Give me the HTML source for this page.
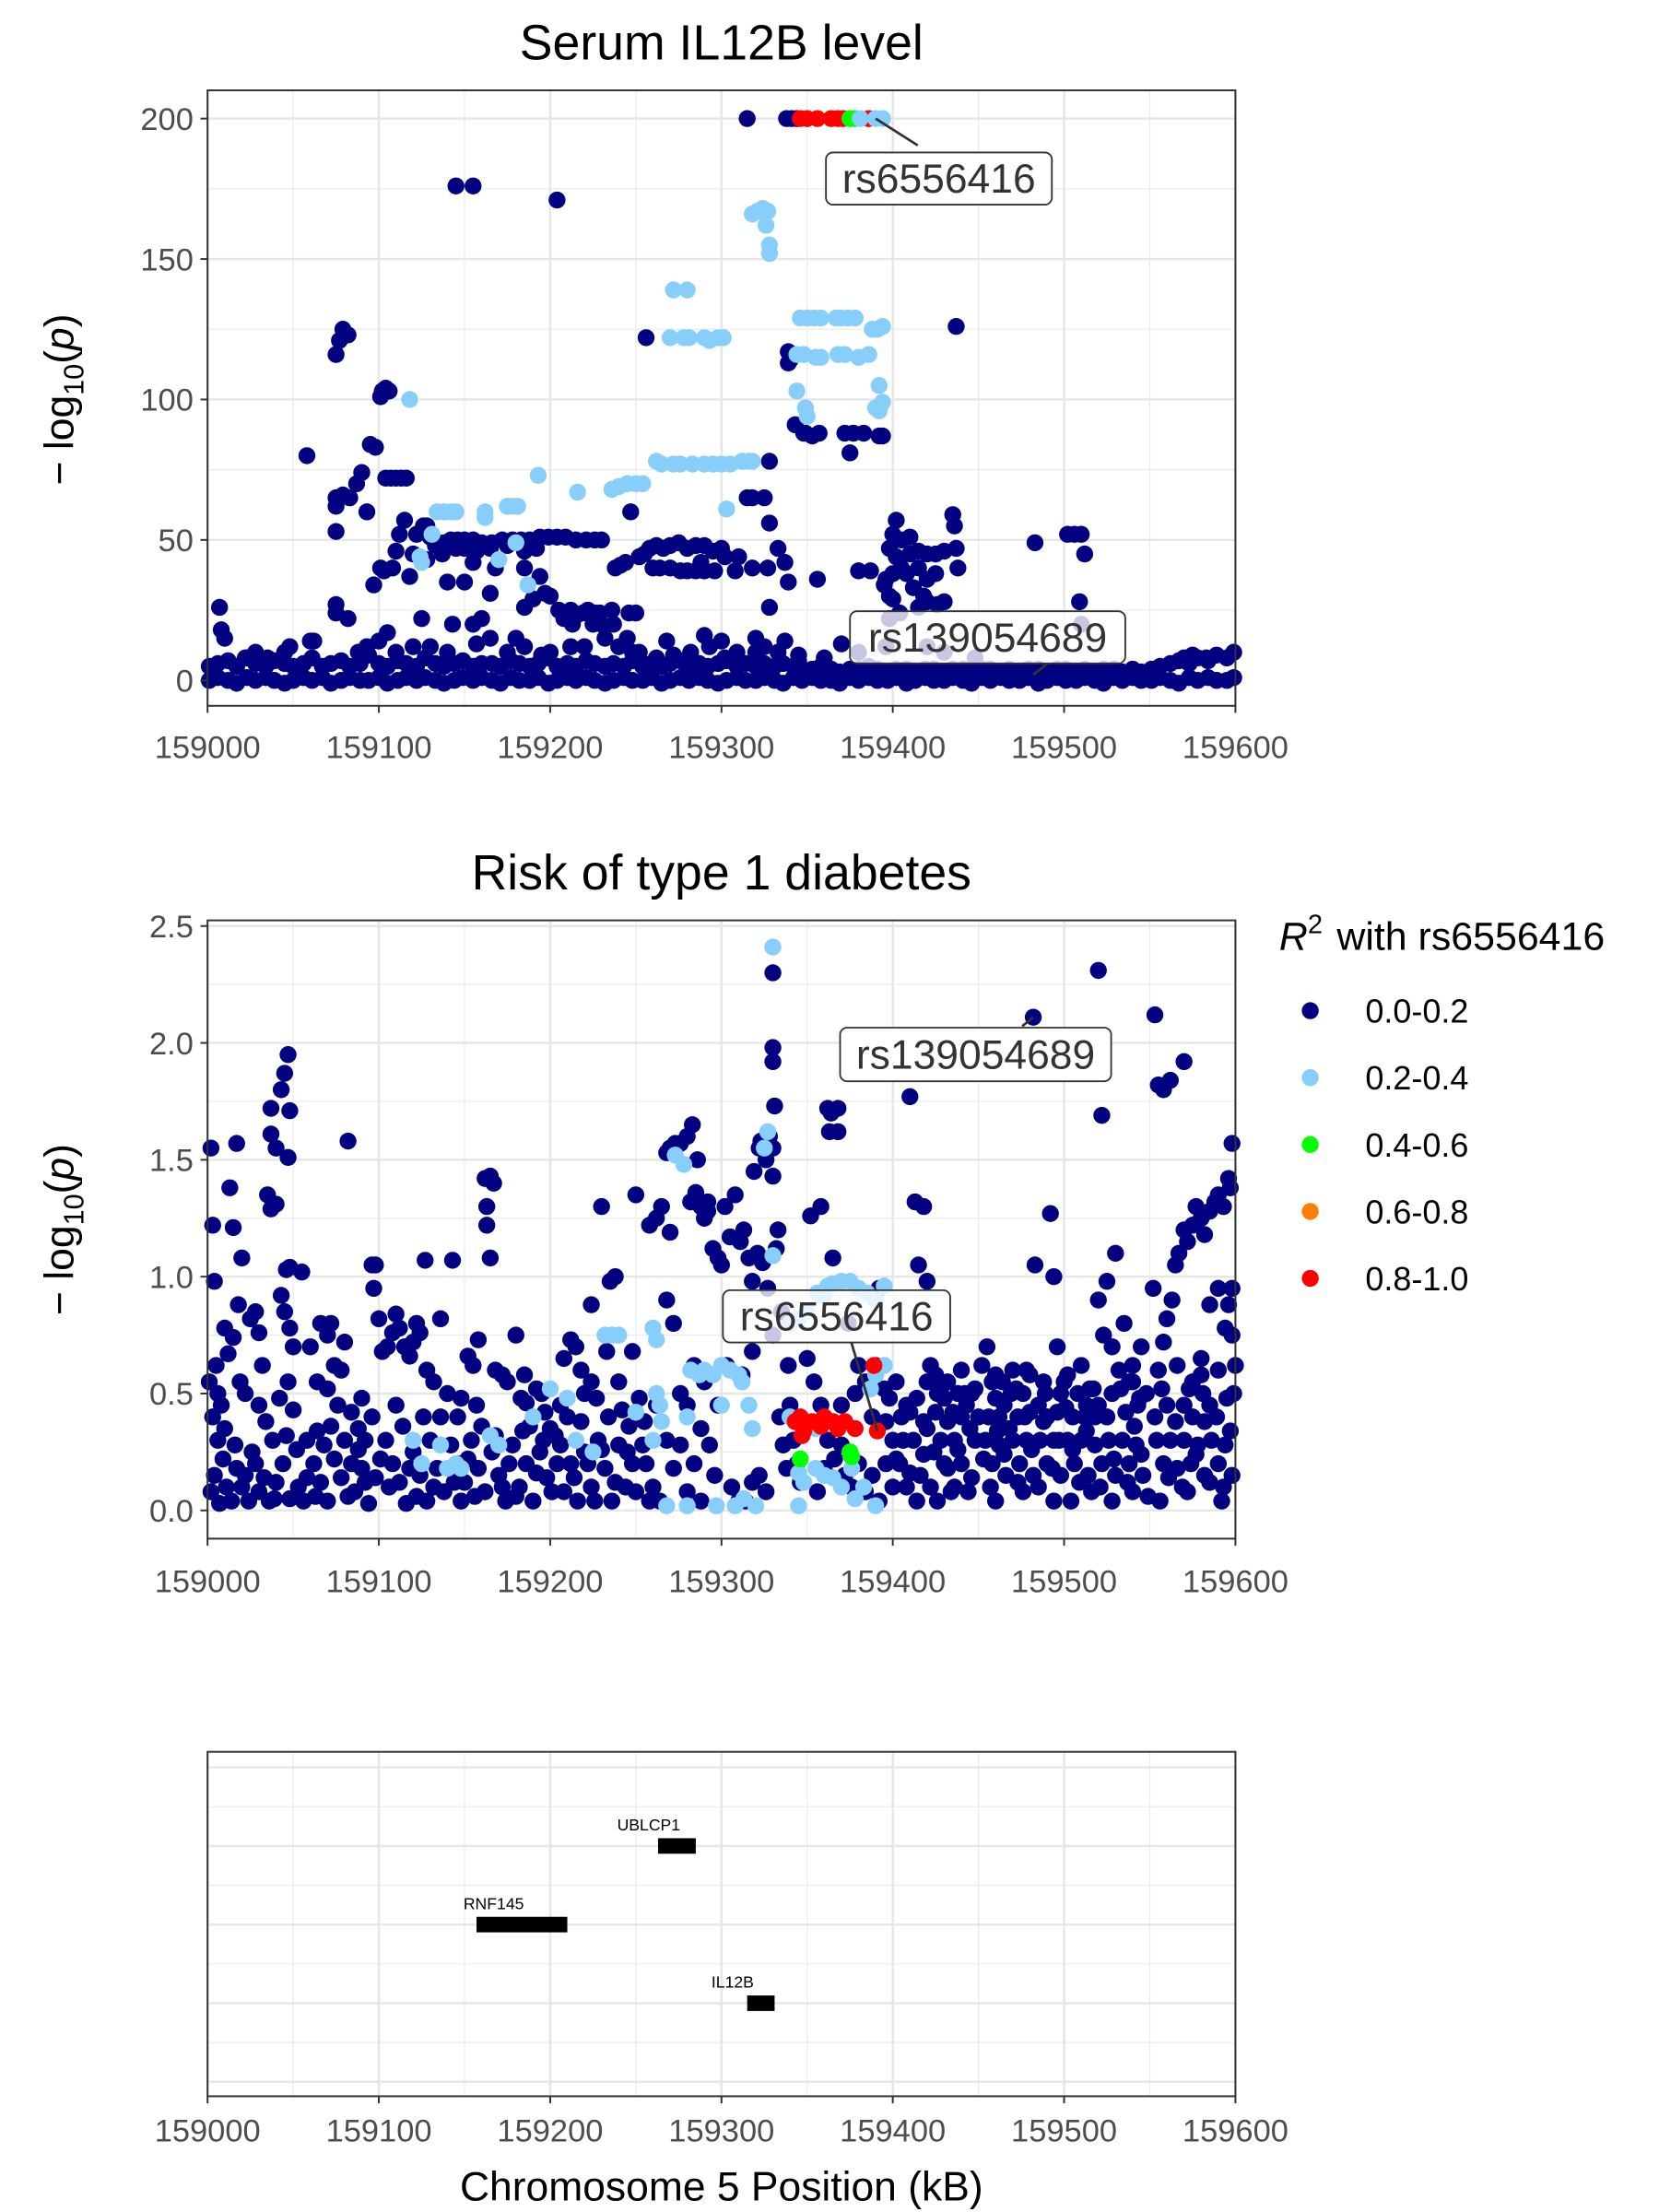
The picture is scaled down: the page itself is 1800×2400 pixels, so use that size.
<!DOCTYPE html>
<html><head><meta charset="utf-8"><title>Regional association plots</title>
<style>
html,body{margin:0;padding:0;background:#fff;}
svg{display:block;font-family:"Liberation Sans",Arial,sans-serif;}
</style></head>
<body>
<svg id="chart" width="1800" height="2400" viewBox="0 0 1175 1567" preserveAspectRatio="none" xmlns="http://www.w3.org/2000/svg">
<rect x="0" y="0" width="1175" height="1567" fill="#fff"/>
<g id="p1"></g>
<g id="p2"></g>
<g id="p3"></g>
<g id="legend"></g>
</svg>
<script>
// ---------- data ----------
const xTicks = [159000,159100,159200,159300,159400,159500,159600];
const p1YTicks = [0,50,100,150,200];
const p2YTicks = [0,0.5,1.0,1.5,2.0,2.5];
const p2YTickLabels = ["0.0","0.5","1.0","1.5","2.0","2.5"];
const legendLabels = ["0.0-0.2","0.2-0.4","0.4-0.6","0.6-0.8","0.8-1.0"];

// Panel 1 baseline band (positions, low and high values)
const p1BasePos = [159001,159006,159012,159017,159023,159028,159034,159039,159045,159050,159056,159061,159067,159072,159078,159083,159089,159094,159100,159105,159111,159116,159122,159127,159133,159138,159144,159149,159155,159160,159166,159171,159177,159182,159188,159193,159199,159204,159210,159215,159221,159226,159232,159237,159243,159248,159254,159259,159265,159270,159276,159281,159287,159292,159298,159303,159309,159314,159320,159325,159331,159336,159342,159347,159353,159358,159364,159369,159375,159380,159386,159391,159397,159402,159408,159413,159419,159424,159430,159435,159441,159446,159452,159457,159463,159468,159474,159479,159485,159490,159496,159501,159507,159512,159518,159523,159529,159534,159540,159545,159551,159556,159562,159567,159573,159578,159584,159589,159595,159599];
const p1BaseLow = [0,1,0,-1,1,0,1,0,-1,0,1,0,1,-1,0,1,0,0,1,-1,0,1,0,1,0,-1,0,1,0,1,0,-1,1,0,0,1,-1,0,1,0,1,0,-1,0,1,0,0,1,-1,0,1,0,1,0,-1,0,1,0,0,1,0,-1,1,0,1,0,0,-1,1,0,1,0,0,1,-1,0,1,0,0,1,0,-1,1,0,1,0,0,1,-1,0,1,0,0,1,0,-1,1,0,1,0,0,1,0,-1,1,0,1,0,0,1];
const p1BaseHigh = [5,6,7,5,8,6,5,7,6,5,6,8,5,6,7,5,6,9,6,5,7,6,5,8,6,5,6,7,5,6,6,5,7,6,5,6,8,5,6,5,7,6,5,6,5,7,5,6,5,6,7,5,6,5,6,7,5,6,5,6,5,6,5,4,4,5,4,3,4,4,5,4,3,4,4,3,4,4,3,4,4,3,4,4,3,4,3,4,4,3,4,4,3,4,3,4,4,3,4,3,4,5,6,7,6,8,7,9,8,10];

const p1Navy = [[159315,200],[159338,200],[159341,200],[159344,200],[159145,176],[159155,176],[159204,171],[159437,126],[159256,122],[159339,117],[159339,113],[159340,114],
[159075,116],[159077,121],[159079,125],[159082,123],[159101,101],[159102,103],[159104,104],[159106,103],[159095,84],[159098,83],[159058,80],
[159104,72],[159107,72],[159110,72],[159113,72],[159116,72],[159090,74],[159087,70],[159075,65],[159075,62],[159075,53],[159079,66],[159083,65],[159093,60],[159115,57],[159112,52],[159110,46],[159108,40],[159101,40],[159103,39],[159097,34],[159122,52],[159126,55],[159120,45],[159118,37],[159130,51],[159133,48],[159128,43],
[159138,49],[159142,50],[159146,50],[159150,50],[159155,50],[159160,49],[159166,49],[159172,50],[159178,50],[159183,50],[159188,50],[159194,51],[159199,51],[159204,51],[159209,51],[159215,50],[159221,50],[159226,50],[159230,50],
[159137,45],[159145,47],[159150,47],[159157,46],[159165,47],[159175,48],[159185,46],[159192,47],
[159155,42],[159168,40],[159185,40],[159194,37],[159165,31],[159185,26],[159190,29],[159197,31],[159200,30],[159140,35],[159128,55],[159150,35],
[159205,25],[159208,22],[159212,25],[159215,23],[159219,24],[159222,25],[159226,24],[159229,24],[159213,20],[159225,20],[159230,20],[159237,20],[159246,24],[159250,24],[159236,25],
[159247,60],[159238,40],[159241,41],[159244,42],[159252,44],[159255,45],[159258,47],[159262,48],[159266,47],[159270,48],[159275,49],[159280,47],[159285,48],[159290,48],[159295,46],[159300,47],[159288,42],
[159260,40],[159264,40],[159270,40],[159276,39],[159280,39],[159285,39],[159290,39],[159296,39],[159302,44],[159310,44],[159308,39],[159318,40],
[159315,65],[159318,65],[159325,65],[159328,78],[159328,56],[159327,40],[159333,47],[159337,42],[159339,35],
[159343,91],[159348,88],[159353,87],[159357,88],[159372,88],[159377,88],[159383,88],[159392,87],[159394,87],[159375,81],[159349,88],
[159356,36],[159380,39],[159396,36],[159398,30],[159402,57],[159400,52],[159398,47],[159402,44],[159405,40],[159400,38],[159410,45],[159415,46],[159420,45],[159425,45],[159430,46],[159405,50],[159410,51],[159408,38],[159412,33],[159418,30],[159420,28],[159426,27],[159430,28],[159435,59],[159436,55],[159437,47],[159438,40],[159425,38],[159415,40],[159420,36],[159387,39],[159395,34],[159400,29],[159404,24],[159415,26],[159483,49],[159502,52],[159506,52],[159510,52],[159512,45],[159509,28],[159510,20],
[159007,26],[159008,18],[159010,15],[159060,14],[159062,14],[159082,22],[159075,27],[159075,24],[159105,17],[159100,14],[159093,12],[159125,22],[159143,20],[159130,12],[159155,20],[159160,22],[159165,15],[159180,15],[159157,13],[159175,10],[159195,9],[159212,12],[159232,15],[159240,12],[159245,15],[159248,10],[159268,14],[159272,9],[159290,16],[159293,12],[159300,14],[159309,10],[159320,15],[159328,26],[159325,12],[159337,14],[159345,9],[159360,8],[159370,13],[159380,10],[159398,22],[159396,12],[159420,12],[159430,10],[159448,8],[159045,10],[159048,12],[159035,8],[159022,8],[159028,10],[159088,10],[159110,10],[159120,12],[159140,10],[159185,12],[159200,10],[159220,12],[159252,10],[159262,8],[159282,10],[159302,8],[159320,10],[159333,10],[159345,7],[159570,8],[159575,9],[159583,8]];
const p1LightBlue = [[159381,200],[159390,200],[159394,200],[159318,166],[159321,167],[159324,168],[159327,167],[159326,162],[159328,155],[159328,152],[159272,139],[159280,139],
[159270,122],[159278,122],[159281,122],[159290,122],[159293,121],[159298,122],[159301,122],
[159346,129],[159350,129],[159354,129],[159358,129],[159367,129],[159370,129],[159374,129],[159378,129],[159388,125],[159391,125],[159394,126],
[159344,116],[159348,116],[159355,115],[159358,115],[159368,116],[159372,116],[159380,115],[159386,116],[159344,103],[159349,97],[159350,94],[159392,105],[159390,97],[159394,99],[159392,96],
[159262,78],[159265,77],[159272,77],[159276,77],[159283,77],[159290,77],[159295,77],[159300,77],[159305,77],[159312,78],[159316,78],[159318,78],
[159216,67],[159236,68],[159240,69],[159245,70],[159250,70],[159254,70],[159193,73],[159175,62],[159178,62],[159181,62],[159162,60],[159162,58],[159134,60],[159138,60],[159142,60],[159145,60],[159118,100],[159131,52],[159124,44],[159187,34],[159303,61],[159180,49],[159170,43],[159125,42]];
const p1Green = [[159375,200],[159378,200]];
const p1Red = [[159346,200],[159350,200],[159356,200],[159364,200],[159368,200],[159371,200],[159386,200]];

const p2Navy = [[159002,1.55],[159003,1.22],[159004,0.98],[159005,0.62],[159001,0.55],[159010,0.78],[159013,1.38],[159015,1.21],[159017,1.57],[159018,0.88],[159020,1.08],[159015,0.74],[159012,0.67],[159008,0.45],[159003,0.40],[159006,0.30],[159009,0.22],[159004,0.15],[159011,0.10],[159007,0.03],[159014,0.04],[159019,0.55],[159022,0.50],[159025,0.82],[159028,0.85],[159030,0.76],[159032,0.62],[159035,1.35],[159037,1.29],[159037,1.72],[159037,1.61],[159040,1.31],[159040,1.55],[159043,1.80],[159045,1.87],[159047,1.95],[159048,1.71],[159047,1.51],[159048,1.04],[159046,1.03],[159043,0.92],[159045,0.85],[159048,0.78],[159050,0.70],[159030,0.45],[159034,0.38],[159038,0.30],[159026,0.25],[159022,0.15],[159017,0.18],[159024,0.04],[159030,0.08],[159036,0.04],[159040,0.12],[159044,0.20],[159042,0.48],[159047,0.55],[159050,0.43],[159048,0.05],[159053,0.10],
[159055,1.02],[159060,0.70],[159064,0.55],[159066,0.80],[159070,0.75],[159072,0.80],[159074,0.62],[159078,0.60],[159080,0.72],[159082,1.58],[159084,0.42],[159088,0.35],[159092,0.30],[159096,1.05],[159097,0.95],[159098,1.05],[159100,0.82],[159102,0.68],[159058,0.30],[159062,0.20],[159066,0.12],[159070,0.04],[159074,0.22],[159076,0.45],[159086,0.08],[159090,0.18],[159094,0.03],[159098,0.14],[159056,0.04],[159064,0.34],[159070,0.52],[159080,0.30],[159084,0.20],[159090,0.48],
[159105,0.70],[159108,0.76],[159110,0.84],[159112,0.78],[159115,0.70],[159118,0.66],[159120,0.72],[159122,0.80],[159124,0.76],[159127,1.07],[159128,0.60],[159132,0.55],[159136,0.82],[159140,0.50],[159143,1.07],[159146,0.40],[159148,0.48],[159104,0.30],[159108,0.20],[159112,0.12],[159116,0.03],[159120,0.25],[159124,0.15],[159130,0.30],[159134,0.18],[159138,0.08],[159142,0.28],[159146,0.20],[159150,0.12],[159110,0.45],[159126,0.40],[159148,0.04],[159128,0.04],
[159152,0.66],[159155,0.62],[159158,0.73],[159162,1.42],[159165,1.43],[159167,1.40],[159163,1.30],[159163,1.22],[159165,1.08],[159168,0.60],[159172,0.58],[159175,0.55],[159180,0.75],[159183,0.48],[159186,0.46],[159188,0.36],[159192,0.52],[159195,0.50],[159197,0.42],[159200,0.35],[159154,0.30],[159158,0.18],[159162,0.08],[159166,0.25],[159170,0.15],[159174,0.04],[159178,0.28],[159182,0.10],[159186,0.20],[159190,0.04],[159194,0.25],[159198,0.14],[159157,0.45],[159185,0.58],
[159203,0.32],[159206,0.45],[159208,0.65],[159212,0.73],[159215,0.70],[159218,0.60],[159220,0.50],[159224,0.55],[159227,0.48],[159230,1.30],[159233,0.68],[159235,0.98],[159238,1.00],[159240,0.55],[159242,0.43],[159245,0.25],[159248,0.68],[159250,1.35],[159204,0.20],[159208,0.08],[159212,0.20],[159216,0.04],[159220,0.25],[159224,0.10],[159228,0.30],[159232,0.18],[159236,0.04],[159240,0.28],[159244,0.10],[159248,0.20],[159224,0.88],[159210,0.40],
[159252,0.48],[159255,0.38],[159258,1.22],[159262,1.25],[159262,0.45],[159265,1.30],[159268,1.53],[159270,1.55],[159273,1.57],[159276,1.57],[159280,1.60],[159283,1.65],[159286,1.50],[159282,1.32],[159285,1.36],[159288,1.30],[159290,1.25],[159292,1.28],[159270,1.19],[159268,0.90],[159272,0.80],[159276,0.50],[159280,0.45],[159284,0.62],[159288,0.35],[159292,1.32],[159295,1.12],[159298,1.08],[159300,1.05],[159293,0.28],[159296,0.15],[159256,0.20],[159260,0.10],[159264,0.04],[159268,0.30],[159272,0.18],[159276,0.28],[159280,0.08],[159284,0.20],[159288,0.04],[159290,0.55],[159298,0.45],
[159302,1.30],[159305,1.17],[159308,1.35],[159311,1.15],[159313,1.20],[159316,1.08],[159318,0.98],[159319,1.45],[159322,1.55],[159323,1.58],[159326,1.50],[159327,1.56],[159321,1.10],[159324,1.06],[159330,2.30],[159330,1.98],[159330,1.92],[159331,1.73],[159330,1.43],[159328,1.60],[159330,1.55],[159327,0.95],[159332,1.12],[159333,1.20],[159335,0.85],[159339,0.62],[159340,0.45],[159342,0.30],[159344,0.20],[159346,0.12],[159303,0.62],[159306,0.10],[159310,0.04],[159314,0.04],[159318,0.12],[159322,0.15],[159326,0.08],[159330,0.75],[159334,0.40],[159336,0.28],[159338,0.18],[159348,0.35],[159350,0.65],[159312,0.58],[159318,0.68],
[159352,1.26],[159358,1.30],[159362,1.72],[159363,1.62],[159364,1.70],[159365,1.08],[159368,1.72],[159368,1.62],[159374,0.80],[159380,0.62],[159384,0.55],[159388,0.40],[159392,0.95],[159395,0.52],[159398,0.48],[159400,0.30],[159354,0.55],[159358,0.45],[159362,0.30],[159366,0.22],[159370,0.28],[159372,0.15],[159376,0.10],[159380,0.20],[159384,0.08],[159388,0.15],[159392,0.04],[159396,0.20],[159400,0.10],[159356,0.08],[159360,0.18],[159370,0.45],[159378,0.50],[159390,0.62],[159396,0.38],
[159402,0.55],[159405,0.40],[159408,0.45],[159410,1.77],[159413,1.32],[159415,1.05],[159418,1.30],[159420,0.98],[159422,0.62],[159425,0.58],[159428,0.52],[159430,0.48],[159432,0.55],[159435,0.42],[159438,0.50],[159440,0.60],[159443,0.45],[159446,0.50],[159448,0.52],[159404,0.20],[159408,0.10],[159412,0.30],[159416,0.15],[159420,0.35],[159424,0.25],[159428,0.30],[159432,0.18],[159436,0.30],[159440,0.20],[159444,0.08],[159448,0.30],[159414,0.04],[159426,0.04],[159436,0.10],[159410,0.42],[159418,0.38],[159425,0.42],[159432,0.38],[159440,0.40],[159445,0.35],
[159452,0.62],[159455,0.70],[159458,0.55],[159460,0.48],[159462,0.40],[159465,0.45],[159468,0.35],[159470,0.60],[159473,0.40],[159476,0.50],[159478,0.60],[159480,0.58],[159482,2.11],[159483,1.05],[159485,0.45],[159488,0.55],[159490,0.40],[159492,1.27],[159494,1.00],[159496,0.70],[159498,0.50],[159454,0.30],[159458,0.20],[159462,0.28],[159466,0.15],[159470,0.30],[159474,0.20],[159478,0.30],[159482,0.15],[159486,0.30],[159490,0.20],[159494,0.30],[159498,0.15],[159456,0.40],[159464,0.55],[159472,0.52],[159480,0.42],[159488,0.38],[159496,0.42],[159460,0.04],[159476,0.08],[159494,0.04],
[159502,0.58],[159505,0.40],[159508,0.50],[159510,0.62],[159513,0.45],[159515,0.52],[159518,0.40],[159520,2.31],[159522,1.69],[159520,0.90],[159523,0.75],[159525,0.98],[159528,0.70],[159530,1.10],[159532,0.60],[159535,0.80],[159538,0.55],[159540,0.62],[159543,0.45],[159545,0.70],[159548,0.50],[159502,0.30],[159506,0.20],[159510,0.30],[159514,0.15],[159518,0.28],[159522,0.20],[159526,0.30],[159530,0.15],[159534,0.30],[159538,0.20],[159542,0.28],[159546,0.15],[159504,0.04],[159516,0.08],[159528,0.04],[159540,0.08],[159512,0.40],[159520,0.45],[159528,0.50],[159536,0.42],[159544,0.48],
[159553,2.12],[159555,1.82],[159558,1.80],[159562,1.84],[159570,1.92],[159552,0.95],[159555,0.60],[159558,0.72],[159560,0.82],[159563,0.90],[159565,1.05],[159567,1.10],[159570,1.20],[159572,1.15],[159575,1.22],[159577,1.30],[159580,1.25],[159582,1.18],[159585,1.28],[159588,1.32],[159590,1.35],[159593,1.30],[159596,1.42],[159598,1.57],[159597,1.38],[159596,0.88],[159594,0.78],[159590,0.95],[159585,0.88],[159580,0.65],[159575,0.55],[159570,0.45],[159566,0.62],[159590,0.60],[159598,0.75],[159598,0.95],[159554,0.30],[159558,0.20],[159562,0.30],[159566,0.18],[159570,0.30],[159574,0.20],[159578,0.28],[159582,0.15],[159586,0.30],[159590,0.20],[159594,0.28],[159598,0.15],[159560,0.45],[159575,0.40],[159585,0.45],[159595,0.48],[159600,0.62],[159582,0.38],[159556,0.04],[159572,0.08],[159592,0.04]];
// additional dense low-significance SNPs in panel 2
const p2NavyDense = [[159002,0.08],[159006,0.50],[159010,0.35],[159016,0.28],[159020,0.10],[159028,0.20],[159033,0.14],[159039,0.05],[159046,0.32],[159052,0.26],[159058,0.14],[159063,0.06],[159068,0.28],[159072,0.36],[159078,0.14],[159082,0.06],[159088,0.26],[159092,0.12],[159096,0.40],[159101,0.22],[159106,0.10],[159114,0.36],[159118,0.18],[159122,0.06],[159132,0.10],[159136,0.40],[159144,0.12],[159152,0.22],[159156,0.06],[159160,0.36],[159168,0.32],[159172,0.10],[159176,0.20],[159180,0.06],[159184,0.34],[159192,0.16],[159196,0.30],[159201,0.08],[159206,0.28],[159214,0.14],[159218,0.38],[159222,0.20],[159226,0.04],[159230,0.26],[159234,0.40],[159238,0.12],[159246,0.36],[159250,0.08],[159254,0.28],[159258,0.04],
[159402,0.22],[159406,0.30],[159410,0.16],[159414,0.48],[159418,0.24],[159422,0.10],[159426,0.50],[159430,0.20],[159434,0.08],[159438,0.26],[159442,0.50],[159446,0.14],[159450,0.40],[159453,0.22],[159457,0.10],[159461,0.34],[159465,0.24],[159469,0.50],[159473,0.12],[159477,0.40],[159481,0.26],[159485,0.10],[159489,0.50],[159493,0.18],[159497,0.30],[159501,0.44],[159505,0.26],[159509,0.12],[159513,0.34],[159517,0.52],[159521,0.10],[159525,0.40],[159529,0.22],[159533,0.52],[159537,0.12],[159541,0.36],[159545,0.24],[159549,0.06],[159553,0.40],[159557,0.52],[159561,0.14],[159565,0.38],[159569,0.10],[159573,0.52],[159577,0.24],[159581,0.50],[159585,0.12],[159589,0.40],[159593,0.10],[159597,0.34],[159599,0.50],[159420,0.55],[159460,0.58],[159500,0.55],[159540,0.55],[159580,0.58]];
const p2LightBlue = [[159330,2.41],[159327,1.62],[159325,1.55],[159273,1.52],[159278,1.48],[159330,1.09],[159262,0.73],[159260,0.78],[159232,0.75],[159236,0.75],[159240,0.75],[159262,0.50],[159264,0.45],[159265,0.38],[159260,0.30],[159280,0.40],[159282,0.60],[159287,0.58],[159290,0.60],[159295,0.58],[159300,0.62],[159305,0.60],[159310,0.58],[159312,0.55],[159316,0.45],[159318,0.35],[159300,0.45],[159320,0.02],[159313,0.05],[159308,0.02],[159297,0.02],[159268,0.02],[159280,0.02],[159140,0.18],[159145,0.20],[159148,0.18],[159136,0.28],[159125,0.20],[159120,0.30],[159165,0.32],[159170,0.28],[159190,0.40],[159200,0.52],[159210,0.48],[159225,0.25],[159215,0.30],[159250,0.42],[159340,0.80],[159345,0.82],[159350,0.85],[159356,0.93],[159360,0.92],[159362,0.96],[159365,0.97],[159370,0.98],[159375,0.98],[159380,0.95],[159385,0.93],[159390,0.90],[159395,0.96],[159395,0.62],[159390,0.58],[159387,0.52],[159345,0.16],[159348,0.12],[159355,0.18],[159360,0.15],[159365,0.14],[159370,0.10],[159376,0.18],[159383,0.10],[159390,0.02],[159378,0.05],[159345,0.02],[159355,0.35],[159340,0.40]];
const p2Red = [[159343,0.38],[159346,0.40],[159348,0.34],[159353,0.38],[159360,0.40],[159365,0.38],[159368,0.35],[159372,0.38],[159378,0.35],[159389,0.62],[159391,0.34],[159358,0.36],[159347,0.32]];
const p2Green = [[159346,0.22],[159375,0.25],[159376,0.23]];

const geneNames = ["UBLCP1","RNF145","IL12B"];
const geneStart = [159263,159157,159315];
const geneEnd = [159285,159210,159331];
const geneTrack = [1,2,3];

// ---------- helpers ----------
const NS = "http://www.w3.org/2000/svg";
const COL = {navy:"#000080", lb:"#87CEFA", green:"#00FF00", orange:"#FF7F00", red:"#FF0000"};
function mk(tag, attrs, parent){ const e=document.createElementNS(NS,tag); for(const k in attrs) e.setAttribute(k,attrs[k]); parent.appendChild(e); return e; }
const X0=147, X1=875;
const TICK_FS=22.5;
function xScale(kb){ return X0 + (kb-159000)*(X1-X0)/600; }
function y1(v){ return 482 - v*398/200; }
function y2(v){ return 1070 - v*414/2.5; }
function trackY(t){ return 1252 + t*55.7; }

function panelFrame(g, top, bottom, yMajor, yMinor){
  mk("rect",{x:X0,y:top,width:X1-X0,height:bottom-top,fill:"#fff"},g);
  yMinor.forEach(yy=>mk("line",{x1:X0,x2:X1,y1:yy,y2:yy,stroke:"#ebebeb","stroke-width":0.8},g));
  for(let k=159050;k<159600;k+=100){ const x=xScale(k); mk("line",{x1:x,x2:x,y1:top,y2:bottom,stroke:"#ebebeb","stroke-width":0.8},g); }
  yMajor.forEach(yy=>mk("line",{x1:X0,x2:X1,y1:yy,y2:yy,stroke:"#e6e6e6","stroke-width":1.6},g));
  xTicks.forEach(k=>{ const x=xScale(k); mk("line",{x1:x,x2:x,y1:top,y2:bottom,stroke:"#e6e6e6","stroke-width":1.6},g); });
}
function xAxis(g, bottom, labelY, name){
  xTicks.forEach(k=>{
    const x=xScale(k);
    mk("line",{x1:x,x2:x,y1:bottom,y2:bottom+5,stroke:"#333","stroke-width":1.3},g);
    const t=mk("text",{x:x,y:labelY,"text-anchor":"middle","font-size":TICK_FS,fill:"#4d4d4d"},g);
    t.textContent=k;
    
    
  });
}
function border(g, top, bottom){ mk("rect",{x:X0,y:top,width:X1-X0,height:bottom-top,fill:"none",stroke:"#333","stroke-width":1.3},g); }
function dots(g, arr, yf, color, name){
  arr.forEach(p=>{
    const c=mk("circle",{cx:xScale(p[0]),cy:yf(p[1]),r:6,fill:color},g);
    
    
  });
}
function yLabel(g, cx, cy){
  const t=mk("text",{transform:`translate(${cx},${cy}) rotate(-90)`,"text-anchor":"middle","font-size":29,fill:"#000"},g);
  
  
  t.innerHTML='\u2212 log<tspan font-size="20" dy="7">10</tspan><tspan dy="-7">(</tspan><tspan font-style="italic">p</tspan>)';
}
function title(g, txt, y){
  const t=mk("text",{x:511,y:y,"text-anchor":"middle","font-size":35,fill:"#000"},g);
  t.textContent=txt;
  
  
}
function labelBox(g, x, y, w, h, txt, fillOpacity, name){
  const r=mk("rect",{x:x,y:y,width:w,height:h,rx:5,fill:"#fff","fill-opacity":fillOpacity,stroke:"#333","stroke-width":1.2},g);
  
  
  const t=mk("text",{x:x+w/2,y:y+h/2+10,"text-anchor":"middle","font-size":29,fill:"#333"},g);
  t.textContent=txt;
  
  
}
function yTick(g, yy, txt){
  mk("line",{x1:X0-5,x2:X0,y1:yy,y2:yy,stroke:"#333","stroke-width":1.3},g);
  const t=mk("text",{x:X0-10,y:yy+8,"text-anchor":"end","font-size":TICK_FS,fill:"#4d4d4d"},g);
  t.textContent=txt;
  
  
}

// ---------- panel 1 ----------
(function(){
  const g=document.getElementById("p1");
  title(g,"Serum IL12B level",42);
  const major=p1YTicks.map(y1), minor=[25,75,125,175].map(y1);
  panelFrame(g,64,500,major,minor);
  const base=[];
  p1BasePos.forEach((p,i)=>{ base.push([p,p1BaseLow[i]]); base.push([p,p1BaseHigh[i]]); });
  dots(g,base,y1,COL.navy,'snp-point-r2-0-0.2');
  dots(g,p1Navy,y1,COL.navy,'snp-point-r2-0-0.2');
  dots(g,p1LightBlue.filter(p=>p[1]<200),y1,COL.lb,'snp-point-r2-0.2-0.4');
  dots(g,p1Red,y1,COL.red,'snp-point-r2-0.8-1.0');
  dots(g,p1Green,y1,COL.green,'snp-point-r2-0.4-0.6');
  dots(g,p1LightBlue.filter(p=>p[1]>=200),y1,COL.lb,'snp-point-r2-0.2-0.4');
  mk("line",{x1:xScale(159390),y1:y1(200),x2:650,y2:103,stroke:"#333","stroke-width":1.8},g);
  labelBox(g,585,108,160,37,"rs6556416",1,'lead-snp-label');
  mk("line",{x1:xScale(159482),y1:y1(2),x2:742,y2:470,stroke:"#333","stroke-width":1.8},g);
  labelBox(g,602,433,195,37,"rs139054689",0.78,'secondary-snp-label');
  border(g,64,500);
  p1YTicks.forEach(v=>yTick(g,y1(v),String(v)));
  xAxis(g,500,537,'p1');
  yLabel(g,52,283);
})();

// ---------- panel 2 ----------
(function(){
  const g=document.getElementById("p2");
  title(g,"Risk of type 1 diabetes",630);
  const major=p2YTicks.map(y2), minor=[0.25,0.75,1.25,1.75,2.25].map(y2);
  panelFrame(g,652,1090,major,minor);
  dots(g,p2Navy,y2,COL.navy,'snp-point-r2-0-0.2');
  dots(g,p2NavyDense,y2,COL.navy,'snp-point-r2-0-0.2');
  dots(g,p2LightBlue,y2,COL.lb,'snp-point-r2-0.2-0.4');
  dots(g,p2Red,y2,COL.red,'snp-point-r2-0.8-1.0');
  dots(g,p2Green,y2,COL.green,'snp-point-r2-0.4-0.6');
  mk("line",{x1:xScale(159391),y1:y2(0.34),x2:603,y2:951,stroke:"#333","stroke-width":1.8},g);
  labelBox(g,512,914,161,37,"rs6556416",0.78,'lead-snp-label');
  mk("line",{x1:xScale(159482),y1:y2(2.11),x2:724,y2:727,stroke:"#333","stroke-width":1.8},g);
  labelBox(g,595,728,192,38,"rs139054689",1,'secondary-snp-label');
  border(g,652,1090);
  p2YTicks.forEach((v,i)=>yTick(g,y2(v),p2YTickLabels[i]));
  xAxis(g,1090,1128,'p2');
  yLabel(g,52,871);
})();

// ---------- panel 3 genes ----------
(function(){
  const g=document.getElementById("p3");
  const major=[0,1,2,3,4].map(trackY), minor=[0.5,1.5,2.5,3.5].map(trackY);
  panelFrame(g,1241,1485,major,minor);
  geneNames.forEach((n,i)=>{
    const xs=xScale(geneStart[i]), xe=xScale(geneEnd[i]), yy=trackY(geneTrack[i]);
    const r=mk("rect",{x:xs,y:yy-5.5,width:xe-xs,height:11,fill:"#000"},g);
    
    
    const t=mk("text",{x:(xs+xe)/2-20,y:yy-11,"text-anchor":"middle","font-size":11.5,fill:"#000"},g);
    t.textContent=n;
    
    
  });
  border(g,1241,1485);
  xAxis(g,1485,1517,'p3');
  const t=mk("text",{x:511,y:1559,"text-anchor":"middle","font-size":29,fill:"#000"},g);
  t.textContent="Chromosome 5 Position (kB)";
  
  
})();

// ---------- legend ----------
(function(){
  const g=document.getElementById("legend");
  const t=mk("text",{x:906,y:673,"font-size":28,fill:"#000"},g);
  t.innerHTML='<tspan font-style="italic">R</tspan><tspan font-size="19" dy="-12">2</tspan><tspan dy="12" dx="10">with rs6556416</tspan>';
  
  
  const cols=[COL.navy,COL.lb,COL.green,COL.orange,COL.red];
  legendLabels.forEach((l,i)=>{
    const yy=716+i*47.4;
    const c=mk("circle",{cx:928,cy:yy,r:6,fill:cols[i]},g);
    
    
    const tx=mk("text",{x:967,y:yy+8.5,"font-size":23.5,fill:"#000"},g);
    tx.textContent=l;
    
    
  });
})();
</script>
</body></html>
